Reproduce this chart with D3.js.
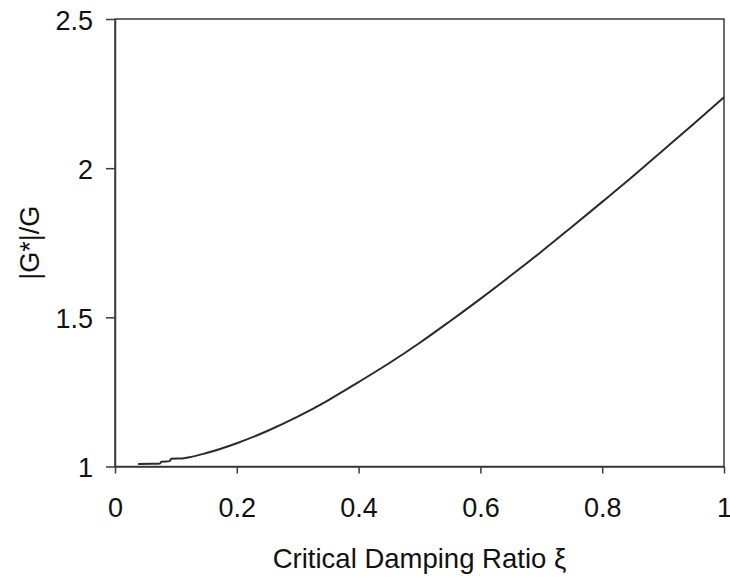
<!DOCTYPE html>
<html>
<head>
<meta charset="utf-8">
<script src="https://cdn.jsdelivr.net/npm/d3@7"></script>
<style>
  html, body { margin: 0; padding: 0; background: #fff; }
  svg { display: block; }
</style>
</head>
<body>
<svg id="chart" width="730" height="578"></svg>
<script>
// Data
const xi = [0.038, 0.06, 0.074, 0.076, 0.09, 0.092, 0.11, 0.12, 0.15, 0.2, 0.25, 0.3, 0.35, 0.4, 0.45, 0.5, 0.55, 0.6, 0.65, 0.7, 0.75, 0.8, 0.85, 0.9, 0.95, 1.0];
const ratio = [1.008, 1.009, 1.010, 1.016, 1.018, 1.026, 1.027, 1.030, 1.045, 1.078, 1.119, 1.167, 1.222, 1.283, 1.346, 1.414, 1.487, 1.562, 1.640, 1.720, 1.803, 1.887, 1.972, 2.060, 2.148, 2.238];
const xTicks = [0, 0.2, 0.4, 0.6, 0.8, 1];
const yTicks = [1, 1.5, 2, 2.5];
const xTickLabels = ["0", "0.2", "0.4", "0.6", "0.8", "1"];
const yTickLabels = ["1", "1.5", "2", "2.5"];
const xTitle = "Critical Damping Ratio ξ";
const yTitle = "|G*|/G";

const svg = d3.select("#chart");
const mLeft = 115, mRight = 724, mTop = 19, mBottom = 466.5;
const font = "'Liberation Sans', Arial, sans-serif";
const axisColor = "#3a3a3a";

const x = d3.scaleLinear().domain([0, 1]).range([mLeft, mRight]);
const y = d3.scaleLinear().domain([1, 2.5]).range([mBottom, mTop]);

// frame
svg.append("rect")
  .attr("x", mLeft).attr("y", mTop)
  .attr("width", mRight - mLeft).attr("height", mBottom - mTop)
  .attr("fill", "none").attr("stroke", axisColor).attr("stroke-width", 1.5);

// x axis
const xAxis = d3.axisBottom(x).tickValues(xTicks)
  .tickFormat((d, i) => xTickLabels[i]).tickSize(7).tickSizeOuter(0).tickPadding(24.5);
const gx = svg.append("g").attr("transform", `translate(0,${mBottom})`).call(xAxis);
gx.select(".domain").attr("stroke", axisColor).attr("stroke-width", 1.5);
gx.selectAll(".tick line").attr("stroke", axisColor).attr("stroke-width", 1.5);
gx.selectAll(".tick text").attr("font-family", font).attr("font-size", 27).attr("fill", "#111");

// y axis
const yAxis = d3.axisLeft(y).tickValues(yTicks)
  .tickFormat((d, i) => yTickLabels[i]).tickSize(9).tickSizeOuter(0).tickPadding(13);
const gy = svg.append("g").attr("transform", `translate(${mLeft},0)`).call(yAxis);
gy.select(".domain").attr("stroke", axisColor).attr("stroke-width", 1.5);
gy.selectAll(".tick line").attr("stroke", axisColor).attr("stroke-width", 1.5);
gy.selectAll(".tick text").attr("font-family", font).attr("font-size", 27).attr("fill", "#111")
  .attr("dy", "0.38em");

// curve
const line = d3.line().x((d, i) => x(xi[i])).y(d => y(d)).curve(d3.curveMonotoneX);
svg.append("path").datum(ratio)
  .attr("d", line).attr("fill", "none")
  .attr("stroke", "#2a2a2a").attr("stroke-width", 2);

// titles
svg.append("text")
  .attr("x", (mLeft + mRight) / 2).attr("y", 568)
  .attr("text-anchor", "middle")
  .attr("font-family", font).attr("font-size", 27.5).attr("fill", "#111")
  .text(xTitle);

svg.append("text")
  .attr("transform", `translate(39,${(mTop + mBottom) / 2}) rotate(-90)`)
  .attr("text-anchor", "middle")
  .attr("font-family", font).attr("font-size", 27).attr("fill", "#111")
  .text(yTitle);
</script>
</body>
</html>
